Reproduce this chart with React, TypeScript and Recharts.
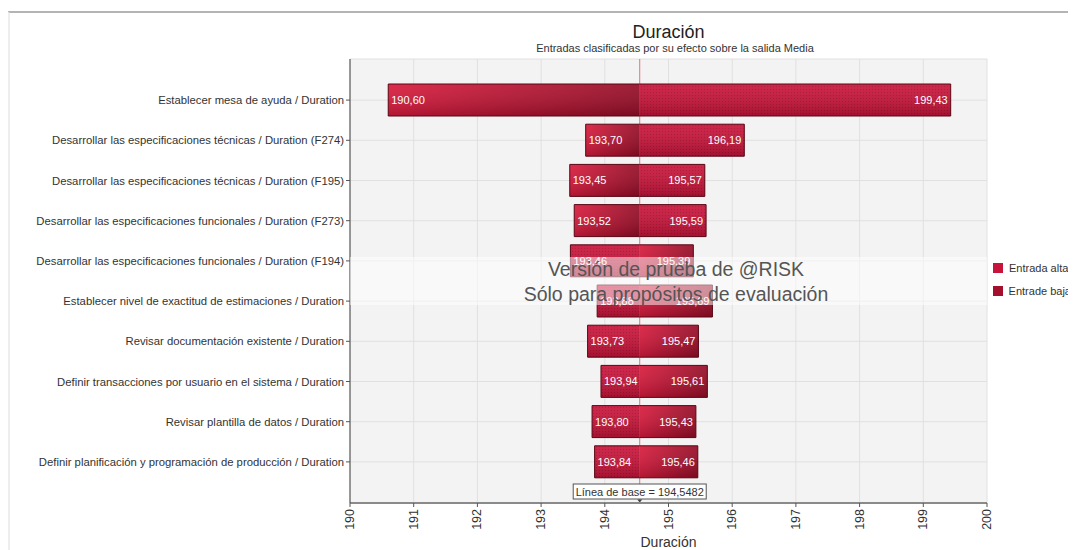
import React from "react";
import { Bar, BarChart, CartesianGrid, LabelList, Legend, ReferenceLine, XAxis, YAxis } from "recharts";

const entradas = [
  "Establecer mesa de ayuda / Duration",
  "Desarrollar las especificaciones técnicas / Duration (F274)",
  "Desarrollar las especificaciones técnicas / Duration (F195)",
  "Desarrollar las especificaciones funcionales / Duration (F273)",
  "Desarrollar las especificaciones funcionales / Duration (F194)",
  "Establecer nivel de exactitud de estimaciones / Duration",
  "Revisar documentación existente / Duration",
  "Definir transacciones por usuario en el sistema / Duration",
  "Revisar plantilla de datos / Duration",
  "Definir planificación y programación de producción / Duration",
];
const valoresMin = [190.6, 193.7, 193.45, 193.52, 193.46, 193.88, 193.73, 193.94, 193.8, 193.84];
const valoresMax = [199.43, 196.19, 195.57, 195.59, 195.39, 195.69, 195.47, 195.61, 195.43, 195.46];
// true when the high input gives the upper end of the bar
const altaEnMax = [true, true, true, true, false, false, false, false, false, false];
const ticksX = [190, 191, 192, 193, 194, 195, 196, 197, 198, 199, 200];
const LINEA_BASE = 194.5482;

const filas = entradas.map((nombre, i) => ({
  nombre,
  alta: altaEnMax[i] ? [LINEA_BASE, valoresMax[i]] : [valoresMin[i], LINEA_BASE],
  baja: altaEnMax[i] ? [valoresMin[i], LINEA_BASE] : [LINEA_BASE, valoresMax[i]],
}));

const fmt = (v: number) => v.toFixed(2).replace(".", ",");

const FUENTE = "'Liberation Sans', Arial, sans-serif";

function segmento(props: any, clave: "alta" | "baja") {
  const { x, y, width, height, index } = props;
  if (!width || width <= 0) return <g />;
  const rango = filas[index][clave];
  const baseIzq = rango[0] === LINEA_BASE;
  const borde = baseIzq
    ? `M${x},${y}H${x + width}V${y + height}H${x}`
    : `M${x + width},${y}H${x}V${y + height}H${x + width}`;
  return (
    <g>
      <rect x={x} y={y} width={width} height={height} fill={clave === "alta" ? "url(#puntosAlta)" : "url(#gradBaja)"} />
      <rect x={x} y={y} width={width} height={height} fill="url(#brillo)" />
      <path d={borde} fill="none" stroke="#5a0716" strokeWidth={1} />
    </g>
  );
}

function etiqueta(props: any, clave: "alta" | "baja") {
  const { x, y, width, height, index } = props;
  const rango = filas[index][clave];
  const baseIzq = rango[0] === LINEA_BASE;
  const cy = y + height / 2;
  return baseIzq ? (
    <text x={x + width - 3} y={cy} textAnchor="end" dominantBaseline="central" fill="#fff" fontSize={11}>
      {fmt(rango[1])}
    </text>
  ) : (
    <text x={x + 3} y={cy} textAnchor="start" dominantBaseline="central" fill="#fff" fontSize={11}>
      {fmt(rango[0])}
    </text>
  );
}

const TickX = ({ x, y, payload }: any) => (
  <text
    x={x}
    y={y}
    transform={`rotate(-90, ${x}, ${y})`}
    textAnchor="end"
    dominantBaseline="central"
    fill="#333"
    fontSize={12.5}
  >
    {payload.value}
  </text>
);

const TickY = ({ x, y, payload }: any) => (
  <text x={x} y={y} textAnchor="end" dominantBaseline="central" fill="#333" fontSize={11.3}>
    {payload.value}
  </text>
);

const EtiquetaBase = ({ viewBox }: any) => {
  if (!viewBox) return null;
  const cx = viewBox.x;
  const bottom = viewBox.y + viewBox.height;
  return (
    <g>
      <rect x={cx - 66.5} y={bottom - 19} width={133} height={15} fill="#fff" stroke="#555" strokeWidth={1} />
      <text x={cx} y={bottom - 11.5} textAnchor="middle" dominantBaseline="central" fontSize={11} fill="#333">
        Línea de base = 194,5482
      </text>
      <path d={`M${cx - 2.5},${bottom - 3.5}L${cx + 2.5},${bottom - 3.5}L${cx},${bottom - 0.5}Z`} fill="#444" />
    </g>
  );
};

const series = [
  { nombre: "Entrada alta", color: "#c8143a" },
  { nombre: "Entrade baja", color: "#a30f2c" },
];

const Leyenda = () => (
  <div style={{ paddingLeft: 6, fontSize: 11, color: "#333", fontFamily: FUENTE, whiteSpace: "nowrap" }}>
    {series.map((s) => (
      <div key={s.nombre} style={{ display: "flex", alignItems: "center", height: 23 }}>
        <span style={{ display: "inline-block", width: 10, height: 10, background: s.color, marginRight: 6 }} />
        {s.nombre}
      </div>
    ))}
  </div>
);

export default function App() {
  return (
    <div style={{ position: "relative", width: 1068, height: 542, fontFamily: FUENTE, background: "#fff" }}>
      <div style={{ position: "absolute", left: -1, top: 3, width: 1069, height: 539, borderTop: "2px solid #b4b4b4", borderLeft: "3px solid #eeeeee" }} />
      <div style={{ position: "absolute", left: 342, width: 637, top: 13, textAlign: "center", fontSize: 18, lineHeight: "22px", color: "#222" }}>
        Duración
      </div>
      <div style={{ position: "absolute", left: 342, width: 650, top: 33, textAlign: "center", fontSize: 11, lineHeight: "14px", color: "#333" }}>
        Entradas clasificadas por su efecto sobre la salida Media
      </div>
      <div style={{ position: "absolute", left: 0, top: 0 }}>
        <BarChart
          width={1068}
          height={542}
          data={filas}
          layout="vertical"
          margin={{ top: 51, right: 5, bottom: 1, left: 0 }}
          barGap={-32}
        >
          <defs>
            <pattern id="puntosAlta" width={3} height={3} patternUnits="userSpaceOnUse">
              <rect width={3} height={3} fill="#c8143a" />
              <rect width={1} height={1} fill="#a90d2b" />
            </pattern>
            <linearGradient id="gradBaja" x1="0" y1="0" x2="1" y2="0">
              <stop offset="0%" stopColor="#d81a3c" />
              <stop offset="100%" stopColor="#940c26" />
            </linearGradient>
            <linearGradient id="brillo" x1="0" y1="0" x2="0" y2="1">
              <stop offset="0%" stopColor="#ffffff" stopOpacity={0.08} />
              <stop offset="100%" stopColor="#000000" stopOpacity={0.18} />
            </linearGradient>
          </defs>
          <CartesianGrid fill="#f3f3f3" stroke="#e0e0e0" />
          <XAxis
            type="number"
            domain={[190, 200]}
            ticks={ticksX}
            interval={0}
            height={46}
            tick={<TickX />}
            tickSize={4}
            tickLine={{ stroke: "#555" }}
            axisLine={{ stroke: "#8a8a8a", strokeWidth: 2 }}
            label={{ value: "Duración", position: "insideBottom", offset: 2, fontSize: 14, fill: "#333" }}
          />
          <YAxis
            type="category"
            dataKey="nombre"
            width={342}
            padding={{ top: 21, bottom: 21 }}
            interval={0}
            tickSize={4}
            tick={<TickY />}
            tickLine={{ stroke: "#555" }}
            axisLine={{ stroke: "#404040" }}
          />
          <Legend layout="vertical" align="right" verticalAlign="middle" wrapperStyle={{ width: 84 }} content={<Leyenda />} />
          <ReferenceLine x={LINEA_BASE} stroke="#e07282" strokeWidth={1} label={<EtiquetaBase />} zIndex={250} />
          <Bar dataKey="baja" name="Entrade baja" barSize={32} isAnimationActive={false} shape={(p: any) => segmento(p, "baja")}>
            <LabelList dataKey="baja" content={(p: any) => etiqueta(p, "baja")} />
          </Bar>
          <Bar dataKey="alta" name="Entrada alta" barSize={32} isAnimationActive={false} shape={(p: any) => segmento(p, "alta")}>
            <LabelList dataKey="alta" content={(p: any) => etiqueta(p, "alta")} />
          </Bar>
        </BarChart>
      </div>
      <div style={{ position: "absolute", left: 342, top: 249, width: 637, height: 48, background: "rgba(255,255,255,0.5)" }} />
      <div style={{ position: "absolute", left: 668, top: 249, transform: "translateX(-50%)", whiteSpace: "nowrap", textAlign: "center", fontSize: 19.5, lineHeight: "25px", color: "#555" }}>
        <div>Versión de prueba de @RISK</div>
        <div>Sólo para propósitos de evaluación</div>
      </div>
    </div>
  );
}
